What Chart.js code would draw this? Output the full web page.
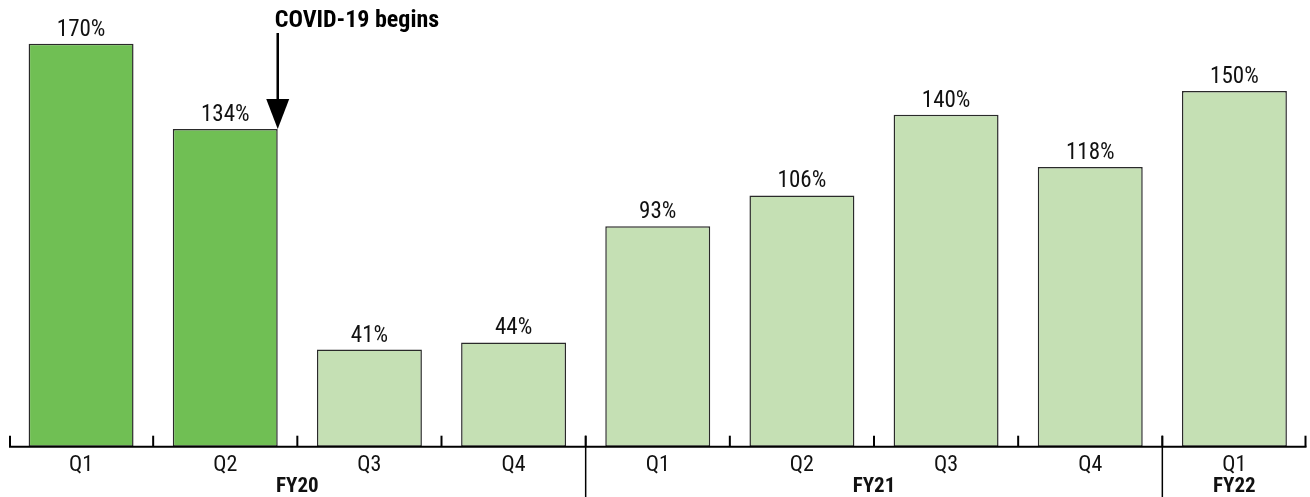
<!DOCTYPE html>
<html><head><meta charset="utf-8">
<script src="https://cdn.jsdelivr.net/npm/chart.js@4"></script>
<style>html,body{margin:0;padding:0;background:#fff;}#wrap{width:1310px;height:497px;position:relative;}</style>
</head><body><div id="wrap"><canvas id="c" width="1310" height="497"></canvas></div>
<script>
const categories = ['Q1','Q2','Q3','Q4','Q1','Q2','Q3','Q4','Q1'];
const values = [170,134,41,44,93,106,140,118,150];
const barColors = ['#70bf54','#70bf54','#c5e0b4','#c5e0b4','#c5e0b4','#c5e0b4','#c5e0b4','#c5e0b4','#c5e0b4'];
const groups = [{label:'FY20',from:0,to:3},{label:'FY21',from:4,to:7},{label:'FY22',from:8,to:8}];
const annotationText = 'COVID-19 begins';
const annotationIndex = 1;

const FONT = "'Roboto Condensed','Liberation Sans Narrow','DejaVu Sans Condensed',Roboto,sans-serif";

const plugin = {
  id:'custom',
  afterDatasetsDraw(chart){
    const ctx = chart.ctx, x = chart.scales.x, a = chart.chartArea;
    const meta = chart.getDatasetMeta(0);
    ctx.save();
    // value labels
    ctx.fillStyle = '#111';
    ctx.font = '23px ' + FONT;
    ctx.textAlign = 'center'; ctx.textBaseline = 'alphabetic';
    meta.data.forEach((b,i)=>{ ctx.fillText(values[i]+'%', b.x, b.y - 8); });
    // axis line
    ctx.strokeStyle = '#000'; ctx.lineWidth = 2;
    ctx.beginPath(); ctx.moveTo(a.left, a.bottom); ctx.lineTo(a.right, a.bottom); ctx.stroke();
    // ticks between categories
    const half = (x.getPixelForValue(1) - x.getPixelForValue(0))/2;
    for(let i=0;i<=categories.length;i++){
      let px = x.getPixelForValue(i) - half;
      if(i===0) px += 1; if(i===categories.length) px -= 1;
      ctx.beginPath(); ctx.moveTo(px, a.bottom - 11); ctx.lineTo(px, a.bottom); ctx.stroke();
    }
    // group separators
    ctx.lineWidth = 1.5;
    groups.slice(1).forEach(g=>{
      const px = x.getPixelForValue(g.from) - half;
      ctx.beginPath(); ctx.moveTo(px, a.bottom - 11); ctx.lineTo(px, chart.height); ctx.stroke();
    });
    // category labels
    ctx.fillStyle = '#111'; ctx.font = '22px ' + FONT;
    categories.forEach((c,i)=>{ ctx.fillText(c, x.getPixelForValue(i), a.bottom + 24); });
    // group labels
    ctx.font = 'bold 21px ' + FONT;
    groups.forEach(g=>{
      const cx = (x.getPixelForValue(g.from) + x.getPixelForValue(g.to))/2;
      ctx.fillText(g.label, cx, a.bottom + 45);
    });
    // annotation arrow
    const b = meta.data[annotationIndex];
    const ax = b.x + b.width/2;
    const tipY = b.y;
    ctx.strokeStyle = '#000'; ctx.lineWidth = 2.5;
    ctx.beginPath(); ctx.moveTo(ax, 33); ctx.lineTo(ax, tipY - 22); ctx.stroke();
    ctx.fillStyle = '#000';
    ctx.beginPath(); ctx.moveTo(ax - 11.5, tipY - 30); ctx.lineTo(ax + 11.5, tipY - 30); ctx.lineTo(ax, tipY); ctx.closePath(); ctx.fill();
    ctx.font = 'bold 24px ' + FONT; ctx.textAlign = 'left';
    ctx.fillText(annotationText, ax - 3, 27);
    ctx.restore();
  }
};

new Chart(document.getElementById('c'), {
  type:'bar',
  data:{ labels:categories, datasets:[{ data:values, backgroundColor:barColors, borderColor:'#2a2a2a', borderWidth:1.5, borderSkipped:false, barPercentage:0.728, categoryPercentage:1 }]},
  options:{
    responsive:false, animation:false, devicePixelRatio:1,
    layout:{ padding:{ top:20, left:9, right:3.5, bottom:50.3 } },
    plugins:{ legend:{display:false}, tooltip:{enabled:false} },
    scales:{
      x:{ display:false, offset:true },
      y:{ display:false, min:0, max:180 }
    }
  },
  plugins:[plugin]
});
</script></body></html>
